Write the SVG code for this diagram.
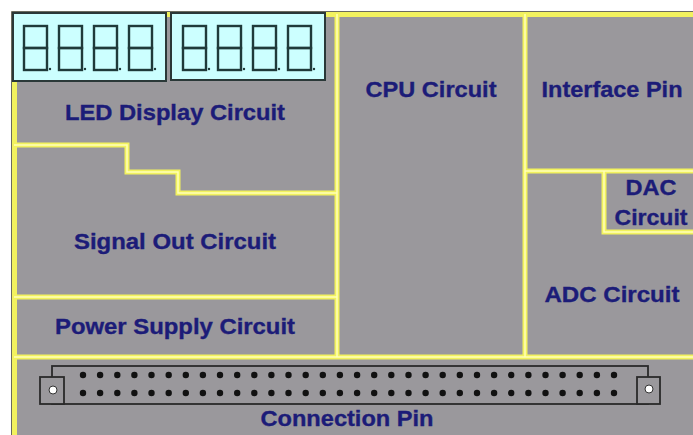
<svg xmlns="http://www.w3.org/2000/svg" width="693" height="435" viewBox="0 0 693 435">
<style>
.lbl{font-family:"Liberation Sans",Arial,sans-serif;font-weight:bold;font-size:22px;fill:#1c1c78;stroke:#1c1c78;stroke-width:0.35;text-anchor:middle}
.yo{fill:none;stroke:#f2f25e;stroke-width:5;stroke-linejoin:miter}
.yi{fill:none;stroke:#ffffb8;stroke-width:1.5;stroke-linejoin:miter}
.ledbox{fill:#ccffff;stroke:#2a3838;stroke-width:2}
.seg{fill:none;stroke:#1f3a3a;stroke-width:2.4}
.dp{fill:#1f3a3a}
.pin{fill:#111}
.conn{fill:#9a989c;stroke:#2a2a2a;stroke-width:1.8}
</style>
<defs>
<g id="digit">
<rect class="seg" x="0" y="0" width="23" height="22"/>
<rect class="seg" x="0" y="22" width="23" height="22"/>
<circle class="dp" cx="26" cy="43" r="1.2"/>
</g>
<circle id="p" class="pin" r="3.2"/>
</defs>
<rect x="0" y="0" width="693" height="435" fill="#ffffff"/>
<rect x="12" y="12" width="700" height="440" fill="#9a989c" stroke="#3a3a2a" stroke-width="1.5"/>

<g id="dividers">
<path class="yo" d="M14.5,435 V14.5 H693"/>
<path class="yo" d="M337,14 V357 M525,14 V357 M525,171 H693 M604,171 V232 H693 M14,145 H127 V172 H178 V193 H337 M14,297 H337 M14,357 H693"/>
<path class="yi" d="M337,14 V357 M525,14 V357 M525,171 H693 M604,171 V232 H693 M14,145 H127 V172 H178 V193 H337 M14,297 H337 M14,357 H693"/>
</g>

<g id="led-display">
<rect class="ledbox" x="13" y="13" width="153" height="68"/>
<rect class="ledbox" x="171" y="13" width="154" height="67"/>
<use href="#digit" x="24" y="26"/>
<use href="#digit" x="59" y="26"/>
<use href="#digit" x="94" y="26"/>
<use href="#digit" x="129" y="26"/>
<use href="#digit" x="183" y="26"/>
<use href="#digit" x="218" y="26"/>
<use href="#digit" x="253" y="26"/>
<use href="#digit" x="288" y="26"/>
<text class="lbl" x="175" y="120" textLength="220" lengthAdjust="spacingAndGlyphs">LED Display Circuit</text>
</g>

<g id="signal-out"><text class="lbl" x="175" y="249" textLength="202" lengthAdjust="spacingAndGlyphs">Signal Out Circuit</text></g>
<g id="power-supply"><text class="lbl" x="175" y="334" textLength="240" lengthAdjust="spacingAndGlyphs">Power Supply Circuit</text></g>
<g id="cpu"><text class="lbl" x="431" y="97" textLength="131" lengthAdjust="spacingAndGlyphs">CPU Circuit</text></g>
<g id="interface-pin"><text class="lbl" x="612" y="97" textLength="141" lengthAdjust="spacingAndGlyphs">Interface Pin</text></g>
<g id="dac">
<text class="lbl" x="651" y="195" textLength="51" lengthAdjust="spacingAndGlyphs">DAC</text>
<text class="lbl" x="651" y="225" textLength="73" lengthAdjust="spacingAndGlyphs">Circuit</text>
</g>
<g id="adc"><text class="lbl" x="612" y="302" textLength="135" lengthAdjust="spacingAndGlyphs">ADC Circuit</text></g>

<g id="connection-pin">
<rect class="conn" x="52" y="366" width="596" height="38"/>
<rect class="conn" x="40" y="377" width="24" height="27"/>
<rect class="conn" x="637" y="377" width="23" height="27"/>
<circle cx="53" cy="390" r="4" fill="#ffffff" stroke="#333" stroke-width="1"/>
<circle cx="649" cy="389" r="4" fill="#ffffff" stroke="#333" stroke-width="1"/>
<g id="pins-row1">
<use href="#p" x="83.0" y="375"/><use href="#p" x="100.1" y="375"/><use href="#p" x="117.3" y="375"/><use href="#p" x="134.4" y="375"/><use href="#p" x="151.5" y="375"/><use href="#p" x="168.7" y="375"/><use href="#p" x="185.8" y="375"/><use href="#p" x="202.9" y="375"/><use href="#p" x="220.0" y="375"/><use href="#p" x="237.2" y="375"/><use href="#p" x="254.3" y="375"/><use href="#p" x="271.4" y="375"/><use href="#p" x="288.5" y="375"/><use href="#p" x="305.7" y="375"/><use href="#p" x="322.8" y="375"/><use href="#p" x="339.9" y="375"/><use href="#p" x="357.1" y="375"/><use href="#p" x="374.2" y="375"/><use href="#p" x="391.3" y="375"/><use href="#p" x="408.5" y="375"/><use href="#p" x="425.6" y="375"/><use href="#p" x="442.7" y="375"/><use href="#p" x="459.8" y="375"/><use href="#p" x="477.0" y="375"/><use href="#p" x="494.1" y="375"/><use href="#p" x="511.2" y="375"/><use href="#p" x="528.4" y="375"/><use href="#p" x="545.5" y="375"/><use href="#p" x="562.6" y="375"/><use href="#p" x="579.7" y="375"/><use href="#p" x="596.9" y="375"/><use href="#p" x="614.0" y="375"/>
</g>
<g id="pins-row2">
<use href="#p" x="83.0" y="393"/><use href="#p" x="100.1" y="393"/><use href="#p" x="117.3" y="393"/><use href="#p" x="134.4" y="393"/><use href="#p" x="151.5" y="393"/><use href="#p" x="168.7" y="393"/><use href="#p" x="185.8" y="393"/><use href="#p" x="202.9" y="393"/><use href="#p" x="220.0" y="393"/><use href="#p" x="237.2" y="393"/><use href="#p" x="254.3" y="393"/><use href="#p" x="271.4" y="393"/><use href="#p" x="288.5" y="393"/><use href="#p" x="305.7" y="393"/><use href="#p" x="322.8" y="393"/><use href="#p" x="339.9" y="393"/><use href="#p" x="357.1" y="393"/><use href="#p" x="374.2" y="393"/><use href="#p" x="391.3" y="393"/><use href="#p" x="408.5" y="393"/><use href="#p" x="425.6" y="393"/><use href="#p" x="442.7" y="393"/><use href="#p" x="459.8" y="393"/><use href="#p" x="477.0" y="393"/><use href="#p" x="494.1" y="393"/><use href="#p" x="511.2" y="393"/><use href="#p" x="528.4" y="393"/><use href="#p" x="545.5" y="393"/><use href="#p" x="562.6" y="393"/><use href="#p" x="579.7" y="393"/><use href="#p" x="596.9" y="393"/><use href="#p" x="614.0" y="393"/>
</g>
<text class="lbl" x="347" y="426" textLength="173" lengthAdjust="spacingAndGlyphs">Connection Pin</text>
</g>
</svg>
